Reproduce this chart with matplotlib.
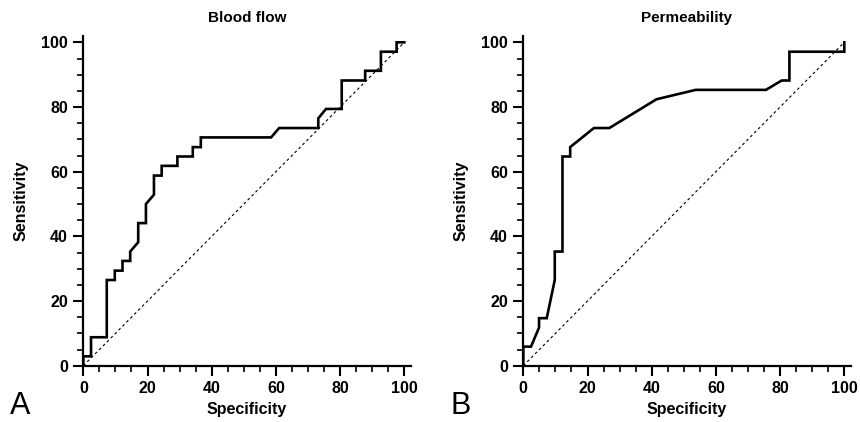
import matplotlib
matplotlib.use('Agg')
import matplotlib.pyplot as plt
from matplotlib.ticker import MultipleLocator

plt.rcParams['font.family'] = ['Liberation Sans', 'DejaVu Sans']

# ROC curves (x axis is labelled "Specificity" as in the original)
blood_x = [0, 0, 2.4, 2.4, 7.3, 7.3, 9.8, 9.8, 12.2, 12.2, 14.6, 14.6, 17.1, 17.1, 19.5, 19.5,
           22.0, 22.0, 24.4, 24.4, 29.3, 29.3, 34.1, 34.1, 36.6, 36.6, 58.5, 61.0, 73.2, 73.2,
           75.6, 80.5, 80.5, 87.8, 87.8, 92.7, 92.7, 97.6, 97.6, 100]
blood_y = [0, 2.9, 2.9, 8.8, 8.8, 26.5, 26.5, 29.4, 29.4, 32.4, 32.4, 35.3, 38.2, 44.1, 44.1, 50.0,
           52.9, 58.8, 58.8, 61.8, 61.8, 64.7, 64.7, 67.6, 67.6, 70.6, 70.6, 73.5, 73.5, 76.5,
           79.4, 79.4, 88.2, 88.2, 91.2, 91.2, 97.1, 97.1, 100, 100]

perm_x = [0, 0, 2.4, 4.9, 4.9, 7.3, 9.8, 9.8, 12.2, 12.2, 14.6, 14.6, 22.0, 26.8, 41.5, 53.7,
          75.6, 80.5, 82.9, 82.9, 100, 100]
perm_y = [0, 5.9, 5.9, 11.8, 14.7, 14.7, 26.5, 35.3, 35.3, 64.7, 64.7, 67.6, 73.5, 73.5, 82.4,
          85.3, 85.3, 88.2, 88.2, 97.1, 97.1, 100]

panels = [
    ('Blood flow', 'A', blood_x, blood_y, 0.0969),
    ('Permeability', 'B', perm_x, perm_y, 0.6085),
]

fig = plt.figure(figsize=(8.6, 4.22), dpi=100)

for title, letter, xs, ys, left in panels:
    ax = fig.add_axes([left, 0.1334, 0.3807, 0.7816])
    ax.plot([0, 100], [0, 100], color='black', lw=0.8, ls=(0, (2.5, 2.5)))
    ax.plot(xs, ys, color='black', lw=1.9, solid_joinstyle='miter')
    ax.set_xlim(0, 102)
    ax.set_ylim(0, 102)
    for side in ['top', 'right']:
        ax.spines[side].set_visible(False)
    for side in ['left', 'bottom']:
        ax.spines[side].set_linewidth(1.6)
    ax.xaxis.set_major_locator(MultipleLocator(20))
    ax.xaxis.set_minor_locator(MultipleLocator(5))
    ax.yaxis.set_major_locator(MultipleLocator(20))
    ax.yaxis.set_minor_locator(MultipleLocator(5))
    ax.tick_params(which='major', direction='out', length=7, width=1.5, labelsize=11.5, pad=4)
    ax.tick_params(which='minor', direction='out', length=4.5, width=1.2)
    for lbl in ax.get_xticklabels() + ax.get_yticklabels():
        lbl.set_fontweight('bold')
    ax.set_title(title, fontsize=11, fontweight='bold', pad=10)
    ax.set_xlabel('Specificity', fontsize=11.5, fontweight='bold', labelpad=4)
    ax.set_ylabel('Sensitivity', fontsize=11.5, fontweight='bold', labelpad=9)
    fig.text(left - 0.085, 0.019, letter, fontsize=22, va='baseline')

fig.savefig('out.png', dpi=100)
